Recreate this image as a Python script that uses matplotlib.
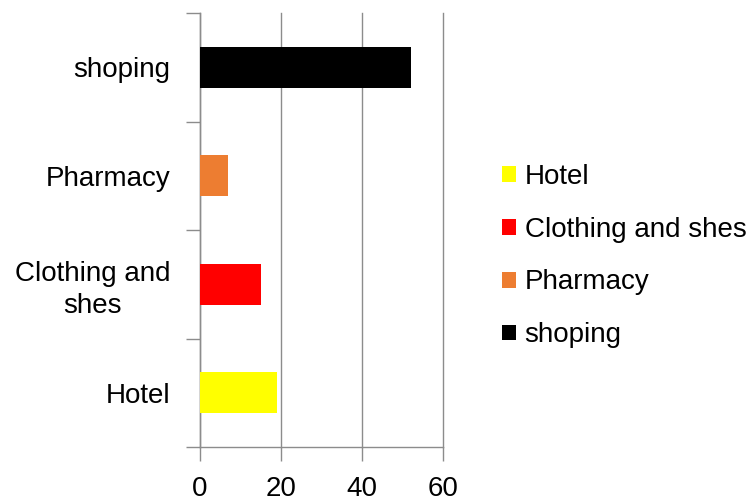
"""Horizontal bar chart of spending categories."""

import matplotlib
matplotlib.use('Agg')
import matplotlib.pyplot as plt
from matplotlib.ticker import FixedLocator

categories = ['Hotel', 'Clothing and shes', 'Pharmacy', 'shoping']
tick_labels = ['Hotel', 'Clothing and\nshes', 'Pharmacy', 'shoping']
values = [19, 15, 7, 52]
colors = ['#ffff00', '#ff0000', '#ed7d31', '#000000']
xticks = [0, 20, 40, 60]

GRID = '#8c8c8c'

plt.rcParams['font.family'] = ['Liberation Sans', 'DejaVu Sans']

fig = plt.figure(figsize=(7.49, 5.0), dpi=100)
ax = fig.add_axes([0.2666, 0.106, 0.3249, 0.868])

for i, (cat, val, col) in enumerate(zip(categories, values, colors)):
    ax.barh(i, val, height=0.38, color=col, label=cat, zorder=3)

ax.set_xlim(0, 60)
ax.set_ylim(-0.5, len(categories) - 0.5)
ax.set_xticks(xticks)
ax.set_yticks(range(len(categories)))
ax.set_yticklabels(tick_labels, fontsize=20, linespacing=1.3,
                   multialignment='center')
ax.yaxis.set_minor_locator(FixedLocator([i - 0.5 for i in range(len(categories) + 1)]))

ax.tick_params(axis='y', which='major', length=0, pad=21)
ax.tick_params(axis='y', which='minor', length=10, width=1, color=GRID)
ax.tick_params(axis='x', length=10, width=1, color=GRID, labelsize=20, pad=11)

ax.xaxis.grid(True, color=GRID, linewidth=1, zorder=0)
# keep the gridline at 60 from being clipped at the axes edge
for line in ax.get_xgridlines():
    line.set_clip_on(False)
for side in ('top', 'right'):
    ax.spines[side].set_visible(False)
for side in ('left', 'bottom'):
    ax.spines[side].set_color(GRID)
    ax.spines[side].set_linewidth(1)

leg = fig.legend(loc='center left', bbox_to_anchor=(0.656, 0.488), frameon=False,
                 fontsize=20, handlelength=0.5, handleheight=0.5,
                 handletextpad=0.3, labelspacing=0.97, borderaxespad=0)

plt.savefig('out.png', dpi=100)
